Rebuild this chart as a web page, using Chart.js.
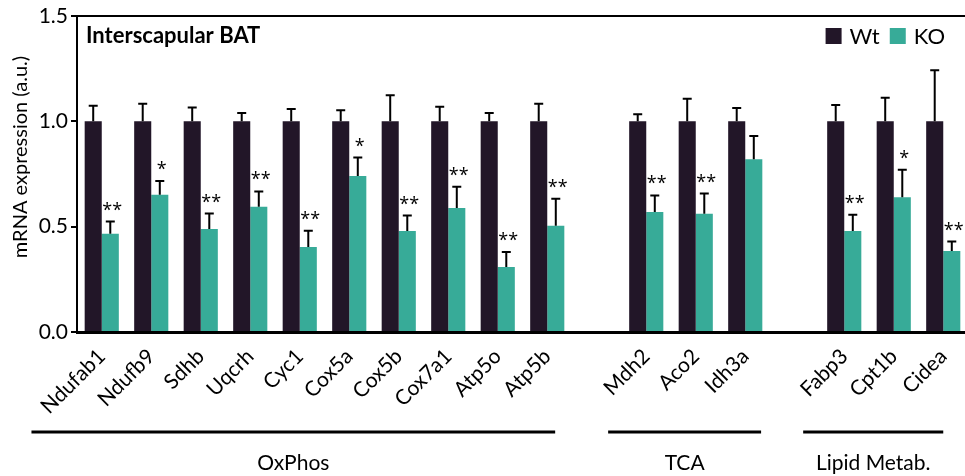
<!DOCTYPE html>
<html>
<head>
<meta charset="utf-8">
<script src="https://cdn.jsdelivr.net/npm/chart.js@4/dist/chart.umd.min.js"></script>
<style>
  html, body { margin: 0; padding: 0; background: #fff; overflow: hidden; }
  #wrap { width: 968px; height: 476px; }
</style>
</head>
<body>
<div id="wrap"><canvas id="c"></canvas></div>
<script>
// Genes (blank entries separate the pathway groups)
const genes = ['Ndufab1', 'Ndufb9', 'Sdhb', 'Uqcrh', 'Cyc1', 'Cox5a', 'Cox5b', 'Cox7a1', 'Atp5o', 'Atp5b', '',
               'Mdh2', 'Aco2', 'Idh3a', '',
               'Fabp3', 'Cpt1b', 'Cidea'];

// Wild-type mean and SEM (normalised to 1)
const wtMean = [1, 1, 1, 1, 1, 1, 1, 1, 1, 1, null, 1, 1, 1, null, 1, 1, 1];
const wtSem  = [0.074, 0.083, 0.066, 0.039, 0.058, 0.053, 0.124, 0.069, 0.040, 0.083, null,
                0.034, 0.107, 0.063, null, 0.077, 0.112, 0.243];

// Knock-out mean and SEM
const koMean = [0.466, 0.651, 0.489, 0.594, 0.404, 0.741, 0.480, 0.589, 0.309, 0.504, null,
                0.570, 0.561, 0.820, null, 0.480, 0.640, 0.385];
const koSem  = [0.058, 0.066, 0.073, 0.073, 0.077, 0.087, 0.073, 0.101, 0.071, 0.128, null,
                0.078, 0.096, 0.110, null, 0.076, 0.130, 0.044];

// Significance vs Wt
const koSig = ['**', '*', '**', '**', '**', '*', '**', '**', '**', '**', '',
               '**', '**', '', '',
               '**', '*', '**'];

// Pathway groups: name, first and last gene index
const groupNames = ['OxPhos', 'TCA', 'Lipid Metab.'];
const groupFirst = [0, 11, 15];
const groupLast  = [9, 13, 17];

const yTicks = [0, 0.5, 1.0, 1.5];
const yTitle = 'mRNA expression (a.u.)';
const panelTitle = 'Interscapular BAT';

const FONT = 'Lato';
const STAR_FONT = '"Open Sans"';
const WT_COLOR = '#221628';
const KO_COLOR = '#37ab98';

// Error bars, significance marks, frame, titles, legend and group brackets
const decorations = {
  id: 'decorations',
  afterDatasetsDraw(chart) {
    const ctx = chart.ctx;
    const ys = chart.scales.y;
    chart.data.datasets.forEach((ds, di) => {
      const meta = chart.getDatasetMeta(di);
      meta.data.forEach((bar, i) => {
        const v = ds.data[i];
        if (v == null) return;
        const top = ys.getPixelForValue(v + ds.sem[i]);
        ctx.save();
        ctx.strokeStyle = '#000';
        ctx.lineWidth = 2;
        ctx.beginPath();
        ctx.moveTo(bar.x, bar.y);
        ctx.lineTo(bar.x, top);
        ctx.moveTo(bar.x - 4.5, top);
        ctx.lineTo(bar.x + 4.5, top);
        ctx.stroke();
        if (ds.sig && ds.sig[i]) {
          ctx.font = '18px ' + STAR_FONT;
          ctx.fillStyle = '#000';
          ctx.textAlign = 'center';
          ctx.textBaseline = 'alphabetic';
          ctx.fillText(ds.sig[i], bar.x + 2, top - 6);
        }
        ctx.restore();
      });
    });
  },
  afterDraw(chart) {
    const ctx = chart.ctx;
    const area = chart.chartArea;
    const xs = chart.scales.x;
    ctx.save();
    // top frame line
    ctx.strokeStyle = '#000';
    ctx.lineWidth = 2;
    ctx.beginPath();
    ctx.moveTo(area.left, area.top);
    ctx.lineTo(chart.width, area.top);
    ctx.stroke();

    // vertical axis title
    ctx.save();
    ctx.translate(27, 157);
    ctx.rotate(-Math.PI / 2);
    ctx.fillStyle = '#000';
    ctx.font = '20px ' + FONT;
    ctx.textAlign = 'center';
    ctx.textBaseline = 'alphabetic';
    ctx.fillText(yTitle, 0, 0);
    ctx.restore();

    // panel title
    ctx.fillStyle = '#000';
    ctx.font = 'bold 22px ' + FONT;
    ctx.textAlign = 'left';
    ctx.textBaseline = 'alphabetic';
    ctx.fillText(panelTitle, area.left + 9, area.top + 27);

    // legend (right aligned)
    ctx.font = '22px ' + FONT;
    let x = 945;
    const items = chart.data.datasets.slice().reverse();
    items.forEach(ds => {
      const w = ctx.measureText(ds.label).width;
      ctx.fillStyle = '#000';
      ctx.textAlign = 'right';
      ctx.fillText(ds.label, x, area.top + 28);
      x -= w + 8;
      ctx.fillStyle = ds.backgroundColor;
      ctx.fillRect(x - 16, area.top + 12, 16, 16);
      x -= 16 + 10;
    });

    // group brackets under the gene names
    const slot = xs.getPixelForValue(1) - xs.getPixelForValue(0);
    const padL = [1.42, 0.77, 0.83];
    const padR = [0.16, 0.32, 0.0];
    ctx.lineWidth = 3;
    ctx.font = '21px ' + FONT;
    ctx.textAlign = 'center';
    groupNames.forEach((name, g) => {
      const x0 = xs.getPixelForValue(groupFirst[g]) - padL[g] * slot;
      const x1 = xs.getPixelForValue(groupLast[g]) + padR[g] * slot;
      ctx.strokeStyle = '#000';
      ctx.beginPath();
      ctx.moveTo(x0, 432);
      ctx.lineTo(x1, 432);
      ctx.stroke();
      ctx.fillStyle = '#000';
      ctx.fillText(name, (x0 + x1) / 2, 470);
    });
    ctx.restore();
  }
};

new Chart(document.getElementById('c'), {
  type: 'bar',
  data: {
    labels: genes,
    datasets: [
      { label: 'Wt', data: wtMean, sem: wtSem, backgroundColor: WT_COLOR },
      { label: 'KO', data: koMean, sem: koSem, sig: koSig, backgroundColor: KO_COLOR }
    ]
  },
  options: {
    responsive: true,
    maintainAspectRatio: false,
    animation: false,
    layout: { padding: { top: 16, right: 0, bottom: 0, left: 0 } },
    categoryPercentage: 0.69,
    barPercentage: 1.0,
    plugins: { legend: { display: false }, tooltip: { enabled: false } },
    scales: {
      x: {
        grid: { display: false },
        border: { display: true, color: '#000', width: 3 },
        ticks: {
          autoSkip: false, maxRotation: 45, minRotation: 45,
          color: '#000', font: { family: FONT, size: 21 }, padding: 4
        },
        afterFit(s) { s.height = 144; }
      },
      y: {
        min: 0, max: 1.5,
        afterBuildTicks(s) { s.ticks = yTicks.map(v => ({ value: v })); },
        ticks: {
          color: '#000', font: { family: FONT, size: 21 }, padding: 3,
          callback: v => Number(v).toFixed(1)
        },
        grid: { drawOnChartArea: false, drawTicks: true, tickLength: 6, color: '#000', lineWidth: 2 },
        border: { display: true, color: '#000', width: 2 },
        afterFit(s) { s.width = 77; }
      }
    }
  },
  plugins: [decorations]
});
</script>
</body>
</html>
